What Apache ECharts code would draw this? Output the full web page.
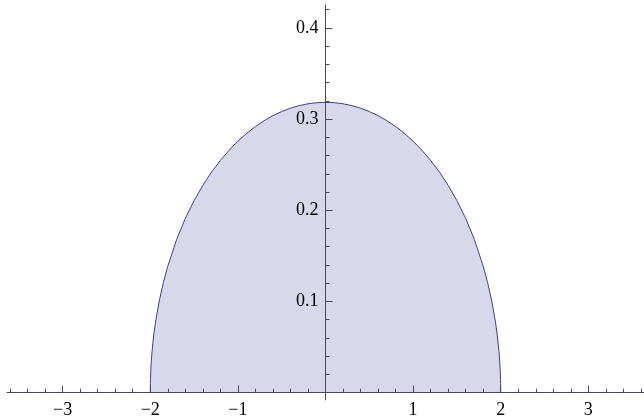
<!DOCTYPE html>
<html>
<head>
<meta charset="utf-8">
<script src="https://cdn.jsdelivr.net/npm/echarts@6/dist/echarts.min.js"></script>
<style>
  html, body { margin: 0; padding: 0; background: #fff; }
  #chart { width: 644px; height: 417px; }
</style>
</head>
<body>
<div id="chart"></div>
<script>
// values (semicircle-shaped density)
const xs = [-2, -1.999, -1.998, -1.995, -1.99, -1.98, -1.96, -1.94, -1.9, -1.85, -1.8, -1.7, -1.6, -1.5, -1.4, -1.3, -1.2, -1.1, -1.0,
  -0.9, -0.8, -0.7, -0.6, -0.5, -0.4, -0.3, -0.2, -0.1, 0,
  0.1, 0.2, 0.3, 0.4, 0.5, 0.6, 0.7, 0.8, 0.9,
  1.0, 1.1, 1.2, 1.3, 1.4, 1.5, 1.6, 1.7, 1.8, 1.85, 1.9, 1.94, 1.96, 1.98, 1.99, 1.995, 1.998, 1.999, 2];
const ys = [0, 0.0101, 0.0142, 0.0225, 0.0318, 0.0449, 0.0633, 0.0774, 0.0994, 0.1209, 0.1387, 0.1677, 0.1910, 0.2105, 0.2273, 0.2419, 0.2546, 0.2658, 0.2757,
  0.2843, 0.2917, 0.2982, 0.3037, 0.3082, 0.3119, 0.3147, 0.3167, 0.3179, 0.3183,
  0.3179, 0.3167, 0.3147, 0.3119, 0.3082, 0.3037, 0.2982, 0.2917, 0.2843,
  0.2757, 0.2658, 0.2546, 0.2419, 0.2273, 0.2105, 0.1910, 0.1677, 0.1387, 0.1209, 0.0994, 0.0774, 0.0633, 0.0449, 0.0318, 0.0225, 0.0142, 0.0101, 0];

const xTicks = [-3, -2, -1, 1, 2, 3];
const yTicks = [0.1, 0.2, 0.3, 0.4];

const xMin = -3.635, xMax = 3.635;
const yMin = -0.008, yMax = 0.425;

// minor ticks: every 0.2 on x, every 0.02 on y
const xMinor = [];
for (let i = -18; i <= 18; i++) if (i % 5 !== 0) xMinor.push(+(i * 0.2).toFixed(2));
const yMinor = [];
for (let i = 1; i <= 21; i++) if (i % 5 !== 0) yMinor.push(+(i * 0.02).toFixed(2));

const W = 644, H = 417;
const grid = { left: 7, right: 0, top: 5, bottom: 17 };
const gw = W - grid.left - grid.right, gh = H - grid.top - grid.bottom;
// axes cross at (0, 0): offsets from the grid edges
const xAxisOffset = -(0 - yMin) / (yMax - yMin) * gh;
const yAxisOffset = -(0 - xMin) / (xMax - xMin) * gw;

const axisColor = '#4a4a55';
const font = { fontFamily: 'Liberation Serif', fontSize: 18, color: '#000' };
const fmt = v => (v < 0 ? '\u2212' + (-v) : String(v));

const chart = echarts.init(document.getElementById('chart'));
chart.setOption({
  animation: false,
  grid: { ...grid, outerBoundsMode: 'none', containLabel: false },
  xAxis: [{
    type: 'value', min: xMin, max: xMax, position: 'bottom', offset: xAxisOffset, z: 5,
    axisLine: { show: true, onZero: false, lineStyle: { color: axisColor, width: 1 } },
    axisTick: { show: true, inside: true, length: 7, customValues: xTicks, lineStyle: { color: axisColor } },
    axisLabel: { show: true, margin: 9, customValues: xTicks, formatter: fmt, hideOverlap: false, ...font },
    splitLine: { show: false }
  }, {
    type: 'value', min: xMin, max: xMax, position: 'bottom', offset: xAxisOffset, z: 5,
    axisLine: { show: false, onZero: false },
    axisTick: { show: true, inside: true, length: 4, customValues: xMinor, lineStyle: { color: axisColor } },
    axisLabel: { show: false },
    splitLine: { show: false }
  }],
  yAxis: [{
    type: 'value', min: yMin, max: yMax, position: 'left', offset: yAxisOffset, z: 5,
    axisLine: { show: true, onZero: false, lineStyle: { color: axisColor, width: 1 } },
    axisTick: { show: true, inside: true, length: 7, customValues: yTicks, lineStyle: { color: axisColor } },
    axisLabel: { show: true, margin: 7, customValues: yTicks, formatter: fmt, hideOverlap: false, ...font },
    splitLine: { show: false }
  }, {
    type: 'value', min: yMin, max: yMax, position: 'left', offset: yAxisOffset, z: 5,
    axisLine: { show: false, onZero: false },
    axisTick: { show: true, inside: true, length: 4, customValues: yMinor, lineStyle: { color: axisColor } },
    axisLabel: { show: false },
    splitLine: { show: false }
  }],
  series: [{
    type: 'line',
    xAxisIndex: 0, yAxisIndex: 0,
    data: xs.map((x, i) => [x, ys[i]]),
    showSymbol: false,
    smooth: false,
    lineStyle: { color: '#3d3d99', width: 1 },
    areaStyle: { color: '#d8d8eb', opacity: 1 },
    z: 2
  }]
});
</script>
</body>
</html>
